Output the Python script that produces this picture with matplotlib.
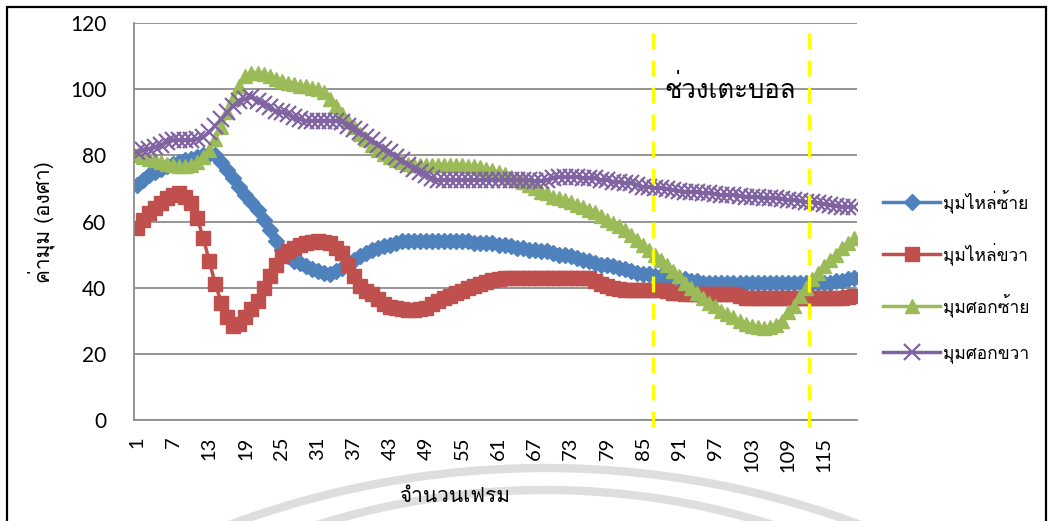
import numpy as np
import matplotlib
matplotlib.use('Agg')
import matplotlib.pyplot as plt
from matplotlib import font_manager
from matplotlib.ft2font import FT2Font
from matplotlib.patches import Rectangle, Arc

# มุมข้อต่อต่อเฟรม (องศา)
frames = np.arange(1, 121)

shoulder_left = [
    71.0, 72.5, 74.0, 75.0, 76.0, 76.8, 77.5, 78.0, 78.5, 79.0,
    79.5, 80.0, 80.5, 80.0, 78.0, 75.5, 73.0, 70.5, 68.0, 66.0,
    63.5, 60.5, 57.5, 54.0, 51.5, 49.5, 48.0, 47.5, 46.5, 45.5,
    45.0, 44.5, 44.0, 45.0, 46.0, 47.0, 48.5, 49.5, 50.5, 51.5,
    52.0, 52.5, 53.0, 53.5, 54.0, 54.0, 54.0, 54.0, 54.0, 54.0,
    54.0, 54.0, 54.0, 54.0, 54.0, 54.0, 53.5, 53.5, 53.5, 53.5,
    53.0, 53.0, 52.5, 52.0, 52.0, 51.5, 51.5, 51.0, 51.0, 50.5,
    50.0, 50.0, 49.5, 49.0, 48.5, 48.0, 47.5, 47.0, 47.0, 46.5,
    46.0, 45.5, 45.0, 44.5, 44.0, 44.0, 43.5, 43.5, 43.0, 43.0,
    42.5, 42.5, 42.0, 42.0, 41.5, 41.5, 41.5, 41.5, 41.5, 41.5,
    41.5, 41.5, 41.5, 41.5, 41.5, 41.5, 41.5, 41.5, 41.5, 41.5,
    41.5, 41.5, 41.5, 41.5, 41.5, 41.5, 42.0, 42.0, 42.5, 43.0,
]

shoulder_right = [
    58.0, 60.5, 62.5, 64.0, 65.5, 67.0, 68.0, 68.5, 67.5, 65.5,
    61.0, 55.0, 48.0, 41.0, 35.5, 31.0, 28.5, 29.0, 31.0, 33.5,
    36.0, 40.0, 43.5, 47.0, 49.5, 51.0, 52.0, 53.0, 53.5, 53.8,
    54.0, 53.8, 53.5, 52.0, 50.5, 47.0, 43.5, 40.5, 39.0, 38.0,
    36.5, 35.0, 34.2, 33.8, 33.5, 33.3, 33.3, 33.5, 34.0, 35.0,
    36.0, 37.0, 37.5, 38.5, 39.0, 39.8, 40.5, 41.0, 41.8, 42.3,
    42.5, 42.8, 43.0, 43.0, 43.0, 43.0, 43.0, 43.0, 43.0, 43.0,
    43.0, 43.0, 43.0, 43.0, 43.0, 43.0, 42.0, 41.0, 40.5, 40.0,
    39.5, 39.3, 39.3, 39.3, 39.3, 39.3, 39.3, 39.3, 39.0, 38.5,
    38.5, 38.0, 38.0, 38.0, 38.0, 38.0, 38.0, 38.0, 38.0, 38.0,
    37.5, 37.0, 37.0, 37.0, 37.0, 37.0, 37.0, 37.0, 37.0, 37.0,
    37.0, 37.0, 37.0, 37.0, 37.0, 37.0, 37.0, 37.0, 37.3, 37.5,
]

elbow_left = [
    80.0, 79.5, 79.0, 78.5, 78.0, 77.5, 77.0, 76.8, 76.8, 77.0,
    78.0, 79.5, 81.5, 85.0, 88.5, 93.0, 97.0, 101.0, 104.0, 105.0,
    105.0, 104.5, 104.0, 103.0, 102.5, 102.0, 101.5, 101.0, 101.0, 100.5,
    100.0, 99.0, 97.0, 95.0, 92.5, 90.5, 88.5, 86.5, 85.0, 83.0,
    81.5, 80.5, 79.5, 78.5, 78.0, 77.5, 77.0, 77.0, 77.0, 77.0,
    77.0, 77.0, 77.0, 77.0, 77.0, 76.8, 76.8, 76.5, 76.0, 75.5,
    75.0, 74.5, 73.5, 72.5, 71.8, 71.0, 70.0, 69.0, 68.5, 67.5,
    67.0, 66.5, 66.0, 65.0, 64.3, 63.5, 62.8, 61.8, 60.5, 59.5,
    58.5, 57.5, 56.0, 54.5, 53.0, 51.5, 50.0, 48.5, 47.0, 45.0,
    43.5, 41.5, 40.0, 38.5, 37.0, 35.5, 34.5, 33.0, 32.0, 31.0,
    30.0, 29.0, 28.5, 28.0, 27.8, 28.0, 28.8, 30.0, 32.5, 34.5,
    37.5, 40.0, 42.5, 44.5, 46.5, 48.5, 50.0, 52.0, 53.5, 55.0,
]

elbow_right = [
    81.0, 81.5, 82.0, 82.5, 83.0, 84.0, 84.5, 84.5, 84.5, 84.5,
    85.0, 85.5, 87.0, 89.0, 91.0, 93.0, 95.0, 96.5, 97.0, 97.5,
    96.5, 95.5, 94.5, 93.5, 93.0, 92.5, 91.5, 91.0, 90.5, 90.5,
    90.5, 90.5, 90.5, 90.5, 90.0, 89.0, 88.0, 87.0, 85.5, 84.5,
    83.0, 82.0, 81.0, 79.5, 78.5, 77.0, 76.0, 75.0, 74.0, 73.0,
    72.5, 72.5, 72.5, 72.5, 72.5, 72.5, 72.5, 72.5, 72.5, 72.5,
    72.5, 72.5, 72.5, 72.5, 72.5, 72.5, 72.3, 72.3, 72.5, 73.0,
    73.5, 73.5, 73.5, 73.5, 73.0, 73.0, 73.0, 72.5, 72.5, 72.0,
    72.0, 71.5, 71.5, 71.0, 70.5, 70.3, 70.0, 70.0, 69.8, 69.5,
    69.3, 69.0, 69.0, 68.8, 68.5, 68.5, 68.3, 68.0, 68.0, 68.0,
    67.8, 67.5, 67.5, 67.3, 67.0, 67.0, 67.0, 66.8, 66.5, 66.5,
    66.3, 66.0, 65.8, 65.5, 65.3, 65.0, 64.8, 64.5, 64.5, 64.3,
]

series_names = ['มุมไหล่ซ้าย', 'มุมไหล่ขวา', 'มุมศอกซ้าย', 'มุมศอกขวา']
series_colors = ['#4F81BD', '#C0504D', '#9BBB59', '#8064A2']
kick_start, kick_end = 86.6, 112.5
tick_frames = frames[::6]


def thai_font():
    # first installed regular-weight family that has Thai glyphs
    found = []
    for fe in font_manager.fontManager.ttflist:
        try:
            cmap = FT2Font(fe.fname).get_charmap()
        except Exception:
            continue
        if 0x0E01 in cmap and 0x0E33 in cmap:
            found.append(fe)
    regular = [fe for fe in found if fe.weight in (400, 'normal', 'regular')]
    pick = regular or found
    return pick[0].name if pick else None


thai = thai_font()
th_family = [thai, 'DejaVu Sans'] if thai else ['DejaVu Sans']
num_family = ['Lato', 'DejaVu Sans']

fig = plt.figure(figsize=(10.51, 5.21), dpi=100)
fig.patch.set_facecolor('white')

# faint watermark arcs along the bottom
for cx, cy, r in [(545, 1372, 904), (545, 1251, 761)]:
    fig.patches.append(Arc((cx / 1051, 1 - cy / 521), 2 * r / 1051, 2 * r / 521,
                           theta1=60, theta2=120, transform=fig.transFigure,
                           color='#dedede', lw=6, zorder=-4))

ax = fig.add_axes([134 / 1051, 101 / 521, 723 / 1051, 397 / 521])
ax.set_facecolor('none')

markers = [dict(marker='D', ms=8), dict(marker='s', ms=9.5),
           dict(marker='^', ms=10), dict(marker='x', ms=11, mew=1.6)]
data = [shoulder_left, shoulder_right, elbow_left, elbow_right]
for vals, name, col, mk in zip(data, series_names, series_colors, markers):
    ax.plot(frames, vals, color=col, lw=2.5, mec=col, mfc=col,
            label=name, **mk)

for xv, y0 in [(kick_start, 117.0), (kick_end, 120.0)]:
    ax.plot([xv, xv], [-2.2, y0], color='#FFFF00', lw=2.4,
            dashes=(4.8, 3.3), clip_on=False, zorder=5)

ax.text(kick_start + 1.9, 100, 'ช่วงเตะบอล', fontsize=18.5, family=th_family,
        va='center', ha='left', zorder=6)

ax.set_xlim(0.5, 120.5)
ax.set_ylim(0, 120)
ax.set_yticks(np.arange(0, 121, 20))
ax.set_xticks(tick_frames)
ax.set_xticklabels([str(t) for t in tick_frames], rotation=90,
                   fontsize=14.5, family=num_family)
for lab in ax.get_yticklabels():
    lab.set_fontsize(15)
    lab.set_family(num_family)
ax.tick_params(axis='both', length=0)
ax.tick_params(axis='y', pad=20)
ax.tick_params(axis='x', pad=12)

ax.yaxis.grid(True, color='#8c8c8c', lw=1.3)
ax.set_axisbelow(True)
for side in ['top', 'right']:
    ax.spines[side].set_visible(False)
for side in ['left', 'bottom']:
    ax.spines[side].set_color('#8c8c8c')
    ax.spines[side].set_linewidth(1.3)

fig.text(42 / 1051, 1 - 222 / 521, 'ค่ามุม (องศา)', rotation=90,
         fontsize=15, family=th_family, ha='center', va='center')
fig.text(455 / 1051, 1 - 497 / 521, 'จำนวนเฟรม', fontsize=15,
         family=th_family, ha='center', va='center')

leg = fig.legend(loc='center left', bbox_to_anchor=(883 / 1051, 0.470),
                 frameon=False, prop={'family': th_family, 'size': 12.5},
                 handlelength=3.3, handletextpad=0.15, labelspacing=1.65,
                 borderpad=0, borderaxespad=0)

# black frame round the chart
fig.patches.append(Rectangle((7 / 1051, -0.1), 1039 / 1051, 1.1 - 7 / 521,
                             transform=fig.transFigure, fill=False,
                             edgecolor='black', lw=1.6, zorder=10))

fig.savefig('out.png', dpi=100)
